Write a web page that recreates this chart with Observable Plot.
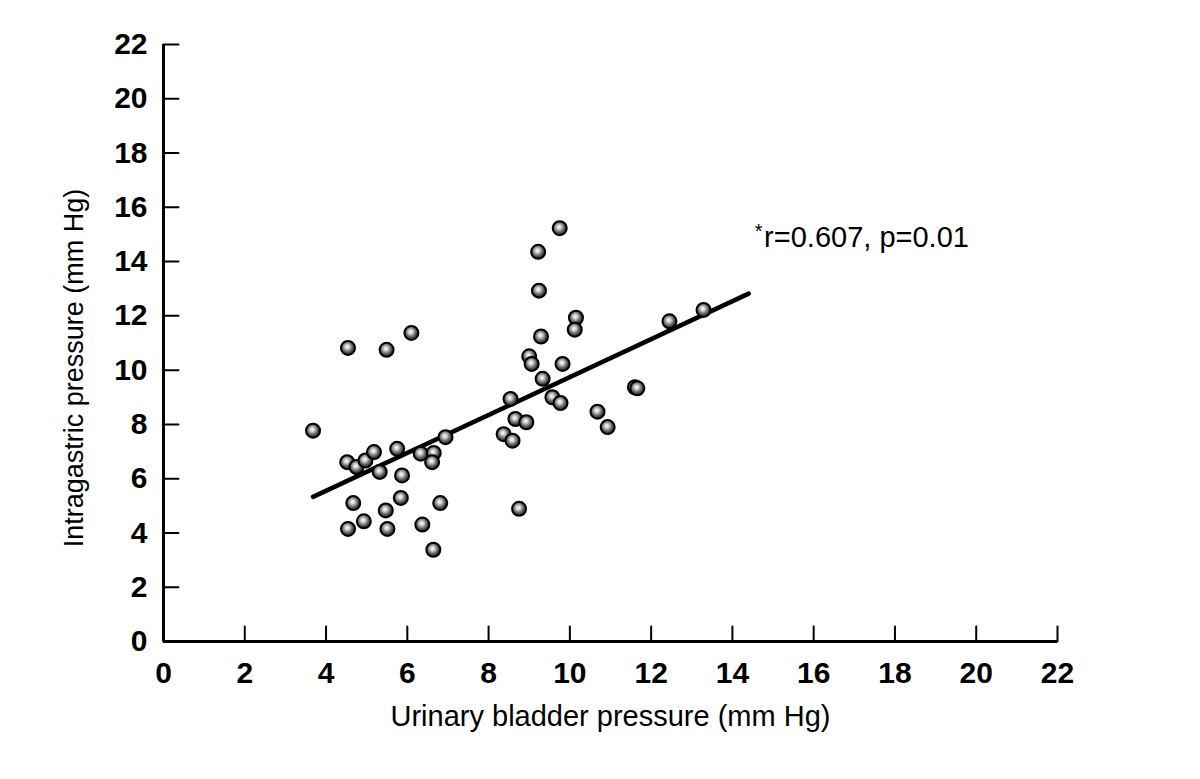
<!DOCTYPE html>
<html><head><meta charset="utf-8">
<script src="https://cdn.jsdelivr.net/npm/d3@7"></script>
<script src="https://cdn.jsdelivr.net/npm/@observablehq/plot@0.6"></script>
<style>body{margin:0;background:#fff;}</style>
</head><body><div id="chart"></div>
<script>
// Urinary bladder pressure (x) and intragastric pressure (y), mm Hg
const bladder = [6.10,4.54,5.49,3.68,6.94,4.52,4.75,4.97,5.18,5.32,5.75,6.33,6.65,6.61,5.87,4.67,5.84,6.81,5.47,4.93,4.54,5.51,6.37,6.64,
  9.75,9.22,9.24,10.15,10.12,9.29,9.00,9.06,9.82,9.33,12.45,13.29,8.54,9.57,9.77,11.60,11.66,8.66,8.93,8.37,8.59,10.68,10.93,8.75];
const gastric = [11.37,10.82,10.75,7.77,7.53,6.61,6.43,6.67,6.98,6.25,7.10,6.92,6.95,6.61,6.12,5.10,5.29,5.10,4.83,4.43,4.15,4.15,4.31,3.38,
  15.23,14.36,12.93,11.93,11.49,11.24,10.51,10.23,10.23,9.68,11.80,12.22,8.94,9.00,8.79,9.37,9.33,8.20,8.08,7.64,7.40,8.47,7.90,4.89];
const fitX = [3.68, 14.40];
const fitY = [5.33, 12.82];
const tickValues = [0,2,4,6,8,10,12,14,16,18,20,22];
const xTitle = "Urinary bladder pressure (mm Hg)";
const yTitle = "Intragastric pressure (mm Hg)";
const note = "r=0.607, p=0.01";

const points = bladder.map((x, i) => ({x, y: gastric[i]}));
const fit = fitX.map((x, i) => ({x, y: fitY[i]}));

const tickShape = {draw(context, l) { context.moveTo(0, 0); context.lineTo(0, -l); }};
const font = "Arial, 'Liberation Sans', sans-serif";
const plot = Plot.plot({
  width: 1200, height: 779,
  marginLeft: 163, marginRight: 143, marginTop: 44, marginBottom: 138,
  style: {fontFamily: font, background: "#fff", color: "#000"},
  x: {domain: [0, 22], axis: null},
  y: {domain: [0, 22], axis: null},
  marks: [
    // inward tick marks
    Plot.vector(tickValues, {x: d => d, y: 0, length: 15, rotate: 0, anchor: "start", shape: tickShape, stroke: "#000", strokeWidth: 2}),
    Plot.vector(tickValues, {x: 0, y: d => d, length: 15, rotate: 90, anchor: "start", shape: tickShape, stroke: "#000", strokeWidth: 2}),
    // tick labels
    Plot.text(tickValues, {x: d => d, y: 0, text: d => String(d), dy: 32, fontSize: 30, fontWeight: "bold"}),
    Plot.text(tickValues, {x: 0, y: d => d, text: d => String(d), dx: -16, textAnchor: "end", fontSize: 30, fontWeight: "bold"}),
    // axis lines
    Plot.ruleY([0], {x1: 0, x2: 22, strokeWidth: 3}),
    Plot.ruleX([0], {y1: 0, y2: 22, strokeWidth: 3}),
    Plot.line(fit, {x: "x", y: "y", strokeWidth: 4.5, stroke: "#000"}),
    Plot.dot(points, {x: "x", y: "y", r: 7, fill: "url(#ball)", stroke: "#000", strokeWidth: 2}),
    Plot.text(["*"], {x: 14.55, y: 14.88, text: d => d, textAnchor: "start", fontSize: 20, dy: -6}),
    Plot.text([note], {x: 14.78, y: 14.88, text: d => d, textAnchor: "start", fontSize: 29}),
    Plot.text([xTitle], {frameAnchor: "bottom", text: d => d, dy: 84, fontSize: 29}),
    Plot.text([yTitle], {frameAnchor: "left", textAnchor: "middle", text: d => d, dx: -89, dy: 25, rotate: -90, fontSize: 27})
  ]
});
const defs = d3.select(plot).insert("defs", ":first-child");
const g = defs.append("radialGradient").attr("id", "ball").attr("cx", "45%").attr("cy", "42%").attr("r", "60%");
g.append("stop").attr("offset", "0%").attr("stop-color", "#ffffff");
g.append("stop").attr("offset", "22%").attr("stop-color", "#d8d8d8");
g.append("stop").attr("offset", "60%").attr("stop-color", "#666");
g.append("stop").attr("offset", "100%").attr("stop-color", "#111");
document.getElementById("chart").appendChild(plot);
</script>
</body></html>
